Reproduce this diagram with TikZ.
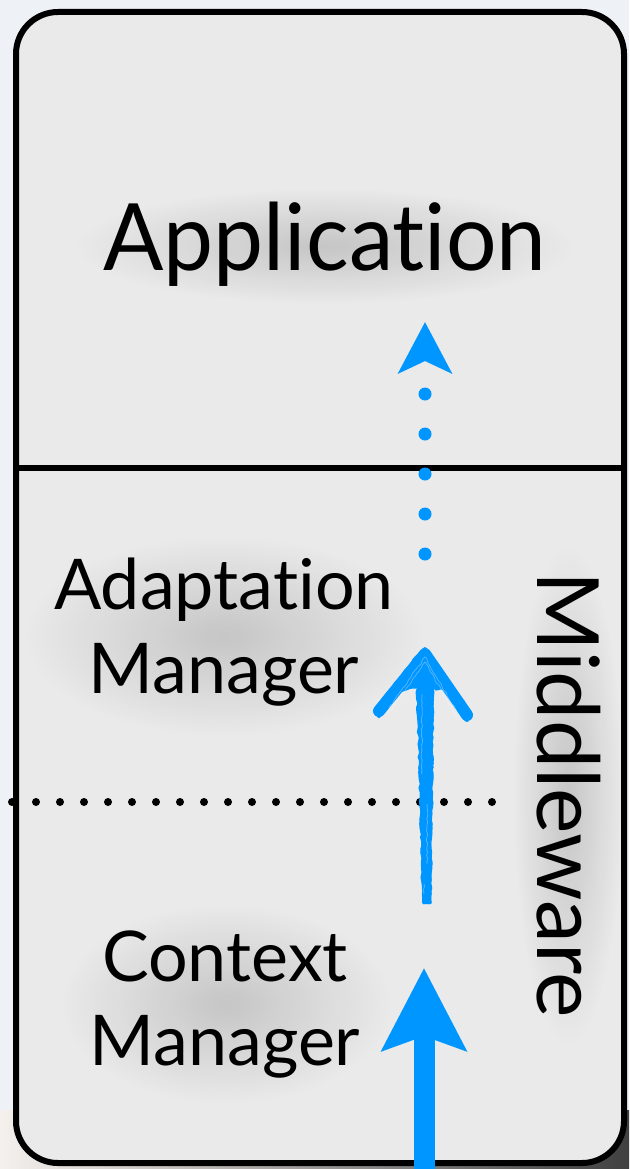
\documentclass[tikz,border=0pt]{standalone}
\usepackage{fontspec}
\setmainfont{Lato}[Ligatures=NoCommon]
\usetikzlibrary{arrows.meta,decorations.pathmorphing,fadings}

\definecolor{panel}{HTML}{EAEAEA}
\definecolor{page}{HTML}{EEF1F6}
\definecolor{flow}{RGB}{0,150,255}

% soft halo placed behind the labels
\tikzfading[name=softglow, inner color=transparent!30, outer color=transparent!100]

\tikzset{
  frame/.style={draw=black, line width=6pt, fill=panel, rounded corners=42pt},
  divider/.style={draw=black, line width=6pt},
  dotrule/.style={draw=black, line width=8pt, line cap=round, dash pattern=on 0pt off 24pt},
  glow/.style={fill=black, opacity=0.22, path fading=softglow},
  biglabel/.style={font=\fontsize{93}{100}\selectfont, inner sep=0pt, anchor=base},
  midlabel/.style={font=\fontsize{70}{84}\selectfont, inner sep=0pt, align=center, anchor=base},
  sidelabel/.style={font=\fontsize{86}{90}\selectfont, inner sep=0pt, anchor=base, rotate=-90},
  solidflow/.style={draw=flow, line width=21pt, -{Stealth[length=82pt, width=83pt, inset=14pt]}},
  dotflow/.style={draw=flow, line width=13pt, line cap=round, dash pattern=on 0pt off 40pt,
    -{Stealth[length=51pt, width=53pt, inset=12pt]}},
  crayon/.style={draw=flow, line width=2.6pt, line cap=round,
    decorate, decoration={random steps, segment length=5pt, amplitude=1.1pt}},
  crayonhead/.style={draw=flow, line width=4pt, line cap=round, line join=round,
    decorate, decoration={random steps, segment length=4pt, amplitude=1.4pt}},
  grain/.style={draw=white, opacity=0.3, line width=0.8pt,
    decorate, decoration={random steps, segment length=3pt, amplitude=0.8pt}}
}

\begin{document}
\begin{tikzpicture}[x=1pt, y=-1pt]
\pgfmathsetseed{7}
\useasboundingbox (0,0) rectangle (629,1169);

% surroundings
\fill[page] (0,0) rectangle (629,1169);
\shade[left color=page!80!brown!40, right color=black!75] (0,1110) rectangle (629,1169);

% the panel and its two separators
\path[frame] (16,12) rectangle (624,1163);
\coordinate (sepL) at (16,468);
\coordinate (sepR) at (624,468);
\draw[divider] (sepL) -- (sepR);
\coordinate (dotL) at (12,802);
\coordinate (dotR) at (494,802);
\draw[dotrule] (dotL) -- (dotR);

% halos behind the labels
\fill[glow] (325,246) ellipse (250 and 58);
\fill[glow] (224,636) ellipse (200 and 100);
\fill[glow] (226,1004) ellipse (165 and 100);
\fill[glow] (568,795) ellipse (55 and 250);

% labels
\node[biglabel] (app) at (325,270) {\scalebox{0.96}[1]{Application}};
\node[midlabel] (adapt) at (224,693) {Adaptation\\Manager};
\node[midlabel] (ctx) at (225,1065) {Context\\Manager};
\node[sidelabel] (mw) at (537,795) {Middleware};

% solid arrow entering from below
\coordinate (inBottom) at (424,1180);
\coordinate (inTip) at (424,968);
\draw[solidflow] (inBottom) -- (inTip);

% hand-drawn arrow between the two managers (canvas yshift points up)
\coordinate (skTail) at (427,903);
\coordinate (skTip) at (425,654);
\coordinate (skLeft) at (379,711);
\coordinate (skRight) at (467,715);
\fill[flow, decorate, decoration={random steps, segment length=4pt, amplitude=1pt}]
  (423,900) -- (431,900) -- (434,680) -- (416,680) -- cycle;
\foreach \dx in {-7,-5,-3,-1,1,3,5,7}
  \draw[crayon] ([xshift=0.5*\dx pt]skTail) -- ([xshift=\dx pt, yshift=-22pt]skTip);
\fill[flow, decorate, decoration={random steps, segment length=4pt, amplitude=1.5pt}]
  (skTip) -- (452,694) -- (425,686) -- (398,692) -- cycle;
\draw[flow, line width=12pt, line cap=round, line join=round] (skLeft) -- (skTip) -- (skRight);
\foreach \dy in {-5,0,5}
  \draw[crayonhead] ([yshift=\dy pt]skLeft) -- ([yshift=\dy pt]skTip) -- ([yshift=\dy pt]skRight);
\foreach \dy in {-2,3}
  \draw[grain] ([yshift=\dy pt, xshift=10pt]skLeft) -- ([yshift=\dy pt-6pt]skTip) -- ([yshift=\dy pt, xshift=-10pt]skRight);
\foreach \dx/\a/\b in {-3/40/120, 2/150/210, -1/230/240}
  \draw[grain] ([xshift=\dx pt, yshift=-\a pt]skTip) -- ([xshift=\dx pt, yshift=-\b pt]skTip);

% dotted arrow up into the application layer
\coordinate (upTail) at (425,554);
\coordinate (upTip) at (425,322);
\draw[dotflow] (upTail) -- (upTip);
\end{tikzpicture}
\end{document}
